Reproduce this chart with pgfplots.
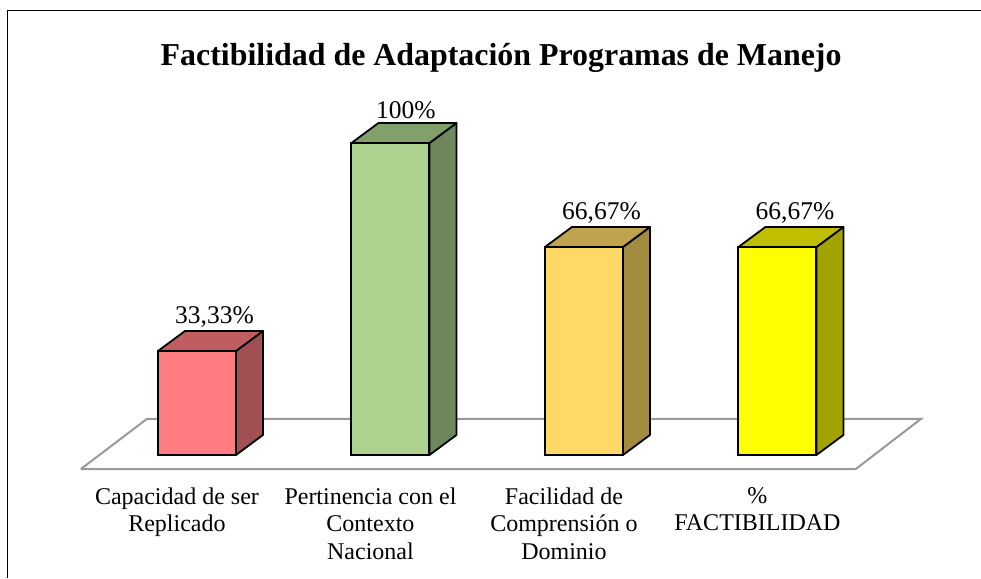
\documentclass[border=0pt]{standalone}
\usepackage{pgfplots}
\pgfplotsset{compat=1.18}
\usepackage{fontspec}
\setmainfont{Liberation Serif}
\definecolor{r1}{HTML}{FF7C80}\definecolor{r2}{HTML}{BF5D60}\definecolor{r3}{HTML}{A05052}
\definecolor{g1}{HTML}{ADD18E}\definecolor{g2}{HTML}{82A06B}\definecolor{g3}{HTML}{6E875C}
\definecolor{o1}{HTML}{FFD966}\definecolor{o2}{HTML}{BFA34D}\definecolor{o3}{HTML}{A38B40}
\definecolor{y1}{HTML}{FFFF00}\definecolor{y2}{HTML}{BFBF00}\definecolor{y3}{HTML}{A3A300}
\definecolor{fl}{HTML}{999999}
\pgfplotsset{
  face/.style={draw=black,line width=1.8pt,line join=round,forget plot},
  front/.style={ybar,bar width=78pt,bar shift=0pt,draw=black,line width=2pt,fill=#1,forget plot,
    nodes near coords style={font=\fontsize{25.5}{27}\selectfont,text=black,anchor=south,xshift=17.5pt,yshift=21pt,inner sep=2pt}},
}
\begin{document}
\begin{tikzpicture}[x=1pt,y=1pt]
\useasboundingbox (0,0) rectangle (981,578);
\begin{axis}[at={(0,0)},anchor=south west,width=981pt,height=578pt,scale only axis,
  xmin=-1.018,xmax=4.052,ymin=-39.42,ymax=145.83,clip=false,
  axis line style={draw=none},major tick length=0pt,
  ytick=\empty,xtick={0,1,2,3},
  xticklabels={{Capacidad de ser\\Replicado},{Pertinencia con el\\Contexto\\Nacional},{Facilidad de\\Comprensión o\\Dominio},{\%\\FACTIBILIDAD}},
  xticklabel style={font=\fontsize{24}{27.5}\selectfont,align=center,anchor=north,xshift=-20pt,yshift=94pt},
]
% frame
\addplot[draw=black,line width=1pt,forget plot] coordinates {(-0.9767,-39.42) (-0.9767,142.6) (4.052,142.6)};
% floor
\addplot[draw=fl,fill=white,line width=2pt,forget plot] coordinates {(-0.6,-4.49) (3.405,-4.49) (3.741,11.54) (-0.259,11.54) (-0.6,-4.49)};
\addplot[draw=fl,line width=2.8pt,forget plot] coordinates {(-0.259,11.54) (3.741,11.54)};
% bar 1
\addplot[face,fill=r3] coordinates {(0.2016,0) (0.3411,6.41) (0.3411,39.74) (0.2016,33.33) (0.2016,0)};
\addplot[face,fill=r2] coordinates {(-0.2016,33.33) (-0.0621,39.74) (0.3411,39.74) (0.2016,33.33) (-0.2016,33.33)};
\addplot[front=r1,nodes near coords={33,33\%}] coordinates {(0,33.33)};
% bar 2
\addplot[face,fill=g3] coordinates {(1.2016,0) (1.3411,6.41) (1.3411,106.41) (1.2016,100) (1.2016,0)};
\addplot[face,fill=g2] coordinates {(0.7984,100) (0.9379,106.41) (1.3411,106.41) (1.2016,100) (0.7984,100)};
\addplot[front=g1,nodes near coords={100\%},nodes near coords style={xshift=-2pt}] coordinates {(1,100)};
% bar 3
\addplot[face,fill=o3] coordinates {(2.2016,0) (2.3411,6.41) (2.3411,73.08) (2.2016,66.67) (2.2016,0)};
\addplot[face,fill=o2] coordinates {(1.7984,66.67) (1.9379,73.08) (2.3411,73.08) (2.2016,66.67) (1.7984,66.67)};
\addplot[front=o1,nodes near coords={66,67\%}] coordinates {(2,66.67)};
% bar 4
\addplot[face,fill=y3] coordinates {(3.2016,0) (3.3411,6.41) (3.3411,73.08) (3.2016,66.67) (3.2016,0)};
\addplot[face,fill=y2] coordinates {(2.7984,66.67) (2.9379,73.08) (3.3411,73.08) (3.2016,66.67) (2.7984,66.67)};
\addplot[front=y1,nodes near coords={66,67\%}] coordinates {(3,66.67)};
\node[font=\bfseries\fontsize{31.9}{33}\selectfont,anchor=center] at (rel axis cs:0.5108,0.9) {Factibilidad de Adaptación Programas de Manejo};
\end{axis}
\end{tikzpicture}
\end{document}
